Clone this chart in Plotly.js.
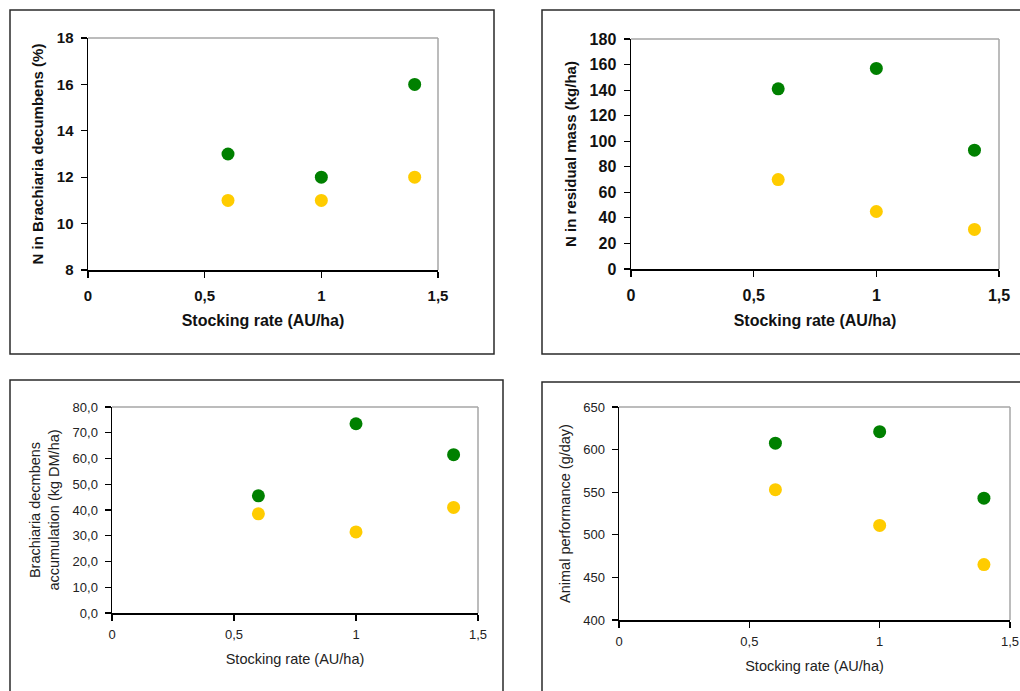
<!DOCTYPE html>
<html>
<head>
<meta charset="utf-8">
<script src="https://cdn.plot.ly/plotly-3.0.1.min.js"></script>
<style>html,body{margin:0;padding:0;background:#fff;}#chart{width:1020px;height:691px;}</style>
</head>
<body>
<div id="chart"></div>
<script>
// ---- data ----
const stockingRate = [0.6, 1.0, 1.4];
const xTickVals = [0, 0.5, 1, 1.5];

const nBrachiariaGreen = [13, 12, 16];
const nBrachiariaYellow = [11, 11, 12];

const nResidualGreen = [141, 157, 93];
const nResidualYellow = [70, 45, 31];

const accumulationGreen = [45.5, 73.5, 61.5];
const accumulationYellow = [38.5, 31.5, 41];

const performanceGreen = [607.5, 621, 543];
const performanceYellow = [553, 511, 465];

const GREEN = '#008000';
const YELLOW = '#ffcc00';
const W = 1020, H = 691;
const px = v => v / W;
const py = v => 1 - v / H;

function pts(xa, ya, ys, color, name) {
  return {type: 'scatter', mode: 'markers', x: stockingRate, y: ys, xaxis: xa, yaxis: ya,
    name: name, showlegend: false,
    marker: {color: color, size: 13, line: {width: 0}}};
}

const traces = [
  pts('x', 'y', nBrachiariaGreen, GREEN, 'Green'),
  pts('x', 'y', nBrachiariaYellow, YELLOW, 'Yellow'),
  pts('x2', 'y2', nResidualGreen, GREEN, 'Green'),
  pts('x2', 'y2', nResidualYellow, YELLOW, 'Yellow'),
  pts('x3', 'y3', accumulationGreen, GREEN, 'Green'),
  pts('x3', 'y3', accumulationYellow, YELLOW, 'Yellow'),
  pts('x4', 'y4', performanceGreen, GREEN, 'Green'),
  pts('x4', 'y4', performanceYellow, YELLOW, 'Yellow')
];

const FAM = 'Arial, "Liberation Sans", sans-serif';
const boldTick = {family: FAM, size: 15, color: '#111', weight: 'bold'};
const boldTick2 = {family: FAM, size: 16, color: '#111', weight: 'bold'};
const boldXTitle = {family: FAM, size: 16, color: '#111', weight: 'bold'};
const boldYTitle = {family: FAM, size: 15, color: '#111', weight: 'bold'};
const regTick = {family: FAM, size: 13, color: '#222'};
const regTitle = {family: FAM, size: 14.5, color: '#222'};

function xax(domain, anchor, tf, titleText, titleFont, standoff, lblStandoff) {
  return {domain: domain, anchor: anchor, range: [0, 1.5], tickvals: xTickVals,
    showgrid: false, zeroline: false, showline: true, linecolor: '#000', linewidth: 1.5,
    ticks: 'outside', ticklen: 6, tickcolor: '#000', tickwidth: 1.2,
    ticklabelstandoff: lblStandoff,
    tickfont: tf, title: {text: titleText, font: titleFont, standoff: standoff},
    automargin: false, fixedrange: true};
}
function yax(domain, anchor, range, dtick, tf, titleText, titleFont, standoff, fmt, lblStandoff) {
  const a = {domain: domain, anchor: anchor, range: range, dtick: dtick, tick0: range[0],
    showgrid: false, zeroline: false, showline: true, linecolor: '#000', linewidth: 1.5,
    ticks: 'outside', ticklen: 6, tickcolor: '#000', tickwidth: 1.2,
    ticklabelstandoff: lblStandoff,
    tickfont: tf, title: {text: titleText, font: titleFont, standoff: standoff},
    automargin: false, fixedrange: true};
  if (fmt) a.tickformat = fmt;
  return a;
}

function box(x0, y0, x1, y1) {
  return {type: 'rect', xref: 'paper', yref: 'paper', x0: px(x0), x1: px(x1), y0: py(y1), y1: py(y0),
    line: {color: '#2a2a2a', width: 1.5}, fillcolor: 'rgba(0,0,0,0)', layer: 'below'};
}
function frame(xr, yr) {
  const l = {color: '#a6a6a6', width: 1.5};
  return [
    {type: 'line', xref: xr + ' domain', yref: yr + ' domain', x0: 0, x1: 1, y0: 1, y1: 1, line: l},
    {type: 'line', xref: xr + ' domain', yref: yr + ' domain', x0: 1, x1: 1, y0: 0, y1: 1, line: l}
  ];
}

const layout = {
  width: W, height: H,
  margin: {l: 0, r: 0, t: 0, b: 0},
  paper_bgcolor: '#fff', plot_bgcolor: 'rgba(0,0,0,0)',
  separators: ', ',
  showlegend: false,
  xaxis: xax([px(88), px(438)], 'y', boldTick, 'Stocking rate (AU/ha)', boldXTitle, 12, 5),
  yaxis: yax([py(270), py(38)], 'x', [8, 18], 2, boldTick, 'N in Brachiaria decumbens (%)', boldYTitle, 9, null, 4),
  xaxis2: xax([px(631), px(999)], 'y2', boldTick2, 'Stocking rate (AU/ha)', boldXTitle, 12, 5),
  yaxis2: yax([py(269), py(39)], 'x2', [0, 180], 20, boldTick2, 'N in residual mass (kg/ha)', boldYTitle, 9, null, 4),
  xaxis3: xax([px(112), px(478)], 'y3', regTick, 'Stocking rate (AU/ha)', regTitle, 13, 3),
  yaxis3: yax([py(613), py(407)], 'x3', [0, 80], 10, regTick, 'Brachiaria decmbens<br>accumulation (kg DM/ha)', regTitle, 9, '.1f', 4),
  xaxis4: xax([px(619), px(1010)], 'y4', regTick, 'Stocking rate (AU/ha)', regTitle, 13, 3),
  yaxis4: yax([py(620), py(407)], 'x4', [400, 650], 50, regTick, 'Animal performance (g/day)', regTitle, 9, null, 4),
  shapes: [
    box(10, 10, 494, 354),
    box(542, 10, 1030, 354),
    box(10, 380, 503, 700),
    box(542, 382, 1030, 700)
  ].concat(frame('x', 'y'), frame('x2', 'y2'), frame('x3', 'y3'), frame('x4', 'y4'))
};

Plotly.newPlot('chart', traces, layout, {displayModeBar: false, staticPlot: true});
</script>
</body>
</html>
